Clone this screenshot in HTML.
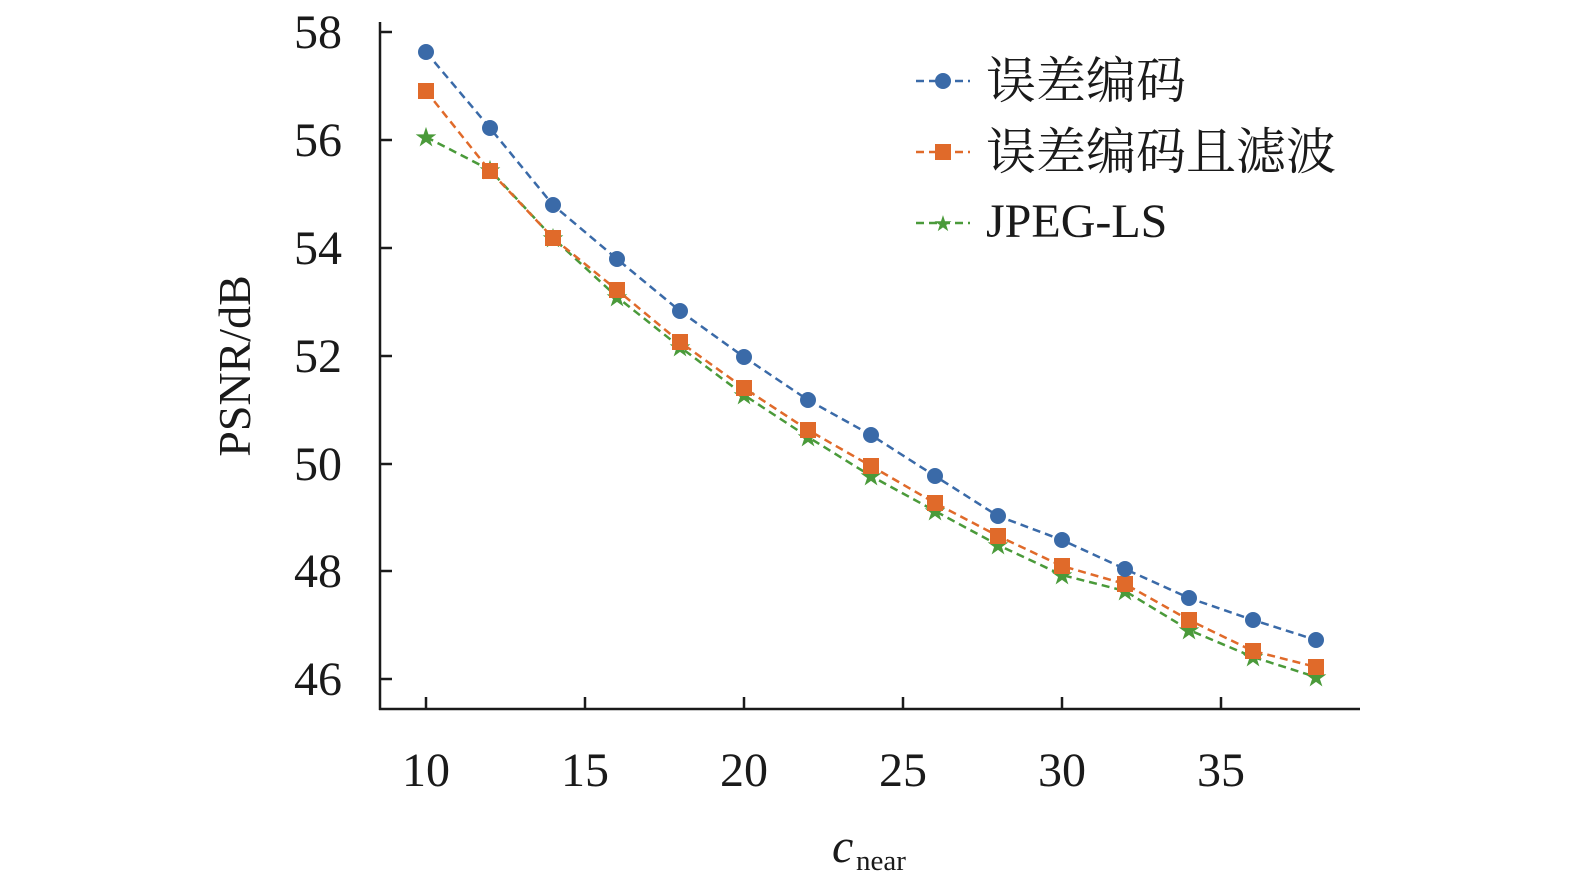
<!DOCTYPE html>
<html><head><meta charset="utf-8"><style>
html,body{margin:0;padding:0;background:#fff;}
svg{display:block;}
text{font-family:"Liberation Serif","Noto Serif CJK SC",serif;fill:#1a1a1a;}
</style></head><body>
<svg width="1575" height="896" viewBox="0 0 1575 896" xmlns="http://www.w3.org/2000/svg">
<g stroke="#1a1a1a" stroke-width="2.5" fill="none">
<line x1="380" y1="22" x2="380" y2="710"/>
<line x1="379" y1="709" x2="1360" y2="709"/>
<line x1="380" y1="32" x2="392" y2="32"/>
<line x1="380" y1="140" x2="392" y2="140"/>
<line x1="380" y1="248" x2="392" y2="248"/>
<line x1="380" y1="356" x2="392" y2="356"/>
<line x1="380" y1="464" x2="392" y2="464"/>
<line x1="380" y1="571" x2="392" y2="571"/>
<line x1="380" y1="679" x2="392" y2="679"/>
<line x1="426" y1="697" x2="426" y2="709"/>
<line x1="585" y1="697" x2="585" y2="709"/>
<line x1="744" y1="697" x2="744" y2="709"/>
<line x1="903" y1="697" x2="903" y2="709"/>
<line x1="1062" y1="697" x2="1062" y2="709"/>
<line x1="1221" y1="697" x2="1221" y2="709"/>
</g>
<g font-size="48" text-anchor="end">
<text x="342" y="48">58</text><text x="342" y="156">56</text><text x="342" y="264">54</text>
<text x="342" y="372">52</text><text x="342" y="480">50</text><text x="342" y="587">48</text><text x="342" y="695">46</text>
</g>
<g font-size="48" text-anchor="middle">
<text x="426" y="786">10</text><text x="585" y="786">15</text><text x="744" y="786">20</text>
<text x="903" y="786">25</text><text x="1062" y="786">30</text><text x="1221" y="786">35</text>
</g>
<text transform="translate(250,366) rotate(-90)" font-size="46" text-anchor="middle">PSNR/dB</text>
<text x="832" y="862" font-size="48" font-style="italic">c</text>
<text x="856" y="870" font-size="29">near</text>
<polyline fill="none" stroke="#4a9a3a" stroke-width="2.5" stroke-dasharray="8,5" points="426,137 490,170 553,238 617,297 680,347 744,395 808,437 871,476 935,511 998,545 1062,575 1125,591 1189,630 1253,657 1316,677"/>
<g font-size="22" text-anchor="middle" style="font-family:'DejaVu Sans',sans-serif">
<text x="426" y="145" style="fill:#4a9a3a">★</text><text x="490" y="178" style="fill:#4a9a3a">★</text><text x="553" y="246" style="fill:#4a9a3a">★</text><text x="617" y="305" style="fill:#4a9a3a">★</text><text x="680" y="355" style="fill:#4a9a3a">★</text><text x="744" y="403" style="fill:#4a9a3a">★</text><text x="808" y="445" style="fill:#4a9a3a">★</text><text x="871" y="484" style="fill:#4a9a3a">★</text><text x="935" y="519" style="fill:#4a9a3a">★</text><text x="998" y="553" style="fill:#4a9a3a">★</text><text x="1062" y="583" style="fill:#4a9a3a">★</text><text x="1125" y="599" style="fill:#4a9a3a">★</text><text x="1189" y="638" style="fill:#4a9a3a">★</text><text x="1253" y="665" style="fill:#4a9a3a">★</text><text x="1316" y="685" style="fill:#4a9a3a">★</text>
</g>
<polyline fill="none" stroke="#e06a2a" stroke-width="2.5" stroke-dasharray="8,5" points="426,91 490,171 553,238 617,290 680,342 744,388 808,430 871,466 935,503 998,536 1062,566 1125,584 1189,620 1253,651 1316,667"/>
<g fill="#e06a2a">
<rect x="418" y="83" width="16" height="16"/><rect x="482" y="163" width="16" height="16"/><rect x="545" y="230" width="16" height="16"/><rect x="609" y="282" width="16" height="16"/><rect x="672" y="334" width="16" height="16"/><rect x="736" y="380" width="16" height="16"/><rect x="800" y="422" width="16" height="16"/><rect x="863" y="458" width="16" height="16"/><rect x="927" y="495" width="16" height="16"/><rect x="990" y="528" width="16" height="16"/><rect x="1054" y="558" width="16" height="16"/><rect x="1117" y="576" width="16" height="16"/><rect x="1181" y="612" width="16" height="16"/><rect x="1245" y="643" width="16" height="16"/><rect x="1308" y="659" width="16" height="16"/>
</g>
<polyline fill="none" stroke="#3a6aa8" stroke-width="2.5" stroke-dasharray="8,5" points="426,52 490,128 553,205 617,259 680,311 744,357 808,400 871,435 935,476 998,516 1062,540 1125,569 1189,598 1253,620 1316,640"/>
<g fill="#3a6aa8">
<circle cx="426" cy="52" r="8"/><circle cx="490" cy="128" r="8"/><circle cx="553" cy="205" r="8"/><circle cx="617" cy="259" r="8"/><circle cx="680" cy="311" r="8"/><circle cx="744" cy="357" r="8"/><circle cx="808" cy="400" r="8"/><circle cx="871" cy="435" r="8"/><circle cx="935" cy="476" r="8"/><circle cx="998" cy="516" r="8"/><circle cx="1062" cy="540" r="8"/><circle cx="1125" cy="569" r="8"/><circle cx="1189" cy="598" r="8"/><circle cx="1253" cy="620" r="8"/><circle cx="1316" cy="640" r="8"/>
</g>
<line x1="916" y1="81" x2="970" y2="81" stroke="#3a6aa8" stroke-width="2.5" stroke-dasharray="8,5"/>
<circle cx="943" cy="81" r="8" fill="#3a6aa8"/>
<line x1="916" y1="152" x2="970" y2="152" stroke="#e06a2a" stroke-width="2.5" stroke-dasharray="8,5"/>
<rect x="935" y="144" width="16" height="16" fill="#e06a2a"/>
<line x1="916" y1="223" x2="970" y2="223" stroke="#4a9a3a" stroke-width="2.5" stroke-dasharray="8,5"/>
<text x="943" y="231" font-size="22" text-anchor="middle" style="fill:#4a9a3a;font-family:'DejaVu Sans',sans-serif">★</text>
<text x="986" y="98" font-size="50">误差编码</text>
<text x="986" y="169" font-size="50">误差编码且滤波</text>
<text x="986" y="237" font-size="48">JPEG-LS</text>
</svg>
</body></html>
